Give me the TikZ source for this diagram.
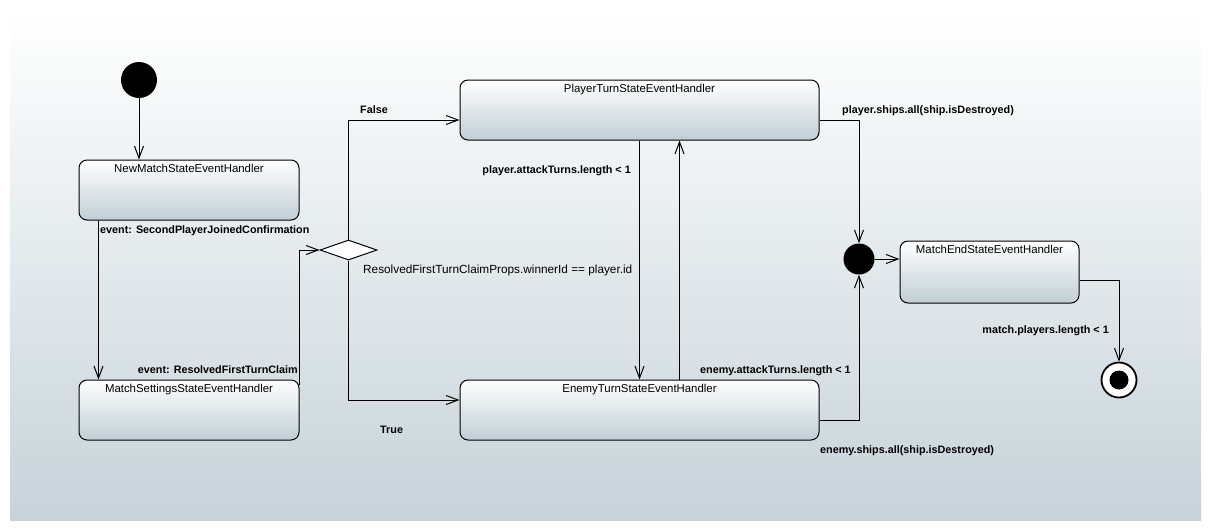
\documentclass[tikz,border=0pt]{standalone}
\usepackage{fontspec}
\setmainfont{Liberation Sans}
\usetikzlibrary{arrows.meta,shapes.geometric,calc}
\definecolor{bgbottom}{RGB}{198,211,217}
\definecolor{boxbottom}{RGB}{192,206,213}
\tikzset{
  statebox/.style={draw=black, line width=1pt, rectangle, rounded corners=8pt,
    top color=white, bottom color=boxbottom, inner sep=0pt},
  stitle/.style={anchor=north, yshift=-5pt, inner sep=0pt, font=\fontsize{11.4}{13}\selectfont},
  trans/.style={draw=black, line width=1pt, -{Straight Barb[length=12pt,width=9pt,line width=1pt]}},
  lbl/.style={inner sep=0pt, font=\fontsize{10.8}{12}\selectfont\bfseries},
  lblr/.style={inner sep=0pt, font=\fontsize{11.8}{13}\selectfont},
  initst/.style={circle, fill=black, inner sep=0pt, minimum size=36pt},
  junct/.style={circle, fill=black, inner sep=0pt, minimum size=31pt},
  finalst/.style={circle, draw=black, line width=1.8pt, fill=white, inner sep=0pt, minimum size=35pt,
    path picture={\fill[black] (path picture bounding box.center) circle (9.5pt);}},
  choice/.style={diamond, draw=black, line width=1pt, fill=white, inner sep=0pt,
    minimum width=57pt, minimum height=20pt}
}
\begin{document}
\begin{tikzpicture}[x=1pt,y=-1pt]
\useasboundingbox (0,0) rectangle (1211,531);
\shade[top color=white, bottom color=bgbottom] (10,13) rectangle (1201,520);

% states
\node[initst] (init) at (139,80) {};
\node[statebox, minimum width=220pt, minimum height=60pt,
  label={[stitle]north:NewMatchStateEventHandler}] (nm) at (189,190) {};
\node[statebox, minimum width=220pt, minimum height=60pt,
  label={[stitle]north:MatchSettingsStateEventHandler}] (ms) at (189,410) {};
\node[choice] (dia) at (348.5,250) {};
\node[statebox, minimum width=359pt, minimum height=60pt,
  label={[stitle]north:PlayerTurnStateEventHandler}] (pt) at (639.5,110) {};
\node[statebox, minimum width=359pt, minimum height=60pt,
  label={[stitle]north:EnemyTurnStateEventHandler}] (et) at (639.5,410) {};
\node[junct] (jn) at (859,259) {};
\node[statebox, minimum width=179pt, minimum height=62pt,
  label={[stitle]north:MatchEndStateEventHandler}] (me) at (989.5,272) {};
\node[finalst] (fin) at (1119,380) {};

% transitions
\draw[trans] (init.south) -- (init.south |- nm.north);
\draw[trans] ([xshift=20pt]nm.south west) -- ([xshift=20pt]ms.north west);
\draw[trans] ([yshift=-5pt]ms.north east) |- (dia.west);
\draw[trans] (dia.north) |- ([yshift=-10pt]pt.west);
\draw[trans] (dia.south) |- ([yshift=10pt]et.west);
\draw[trans] (pt.south) -- (et.north);
\draw[trans] ([xshift=40pt]et.north) -- ([xshift=40pt]pt.south);
\draw[trans] ([yshift=-10pt]pt.east) -| (jn.north);
\draw[trans] ([yshift=-10pt]et.east) -| (jn.south);
\draw[trans] (jn.east) -- (jn.east -| me.west);
\draw[trans] ([yshift=-8pt]me.east) -| (fin.north);

% labels
\node[lbl, anchor=base west] (l1) at (100,233) {event: SecondPlayerJoinedConfirmation};
\node[lbl, anchor=base east] (l2) at (298,373) {event: ResolvedFirstTurnClaim};
\node[lbl, anchor=base west] (l3) at (360,113) {False};
\node[lbl, anchor=base west] (l4) at (380,433) {True};
\node[lblr, anchor=base west] (l5) at (363,273) {ResolvedFirstTurnClaimProps.winnerId == player.id};
\node[lbl, anchor=base east] (l6) at (631,173) {player.attackTurns.length < 1};
\node[lbl, anchor=base west] (l7) at (842,113) {player.ships.all(ship.isDestroyed)};
\node[lbl, anchor=base west] (l8) at (700,373) {enemy.attackTurns.length < 1};
\node[lbl, anchor=base west] (l9) at (820,453) {enemy.ships.all(ship.isDestroyed)};
\node[lbl, anchor=base east] (l10) at (1109,333) {match.players.length < 1};
\end{tikzpicture}
\end{document}
